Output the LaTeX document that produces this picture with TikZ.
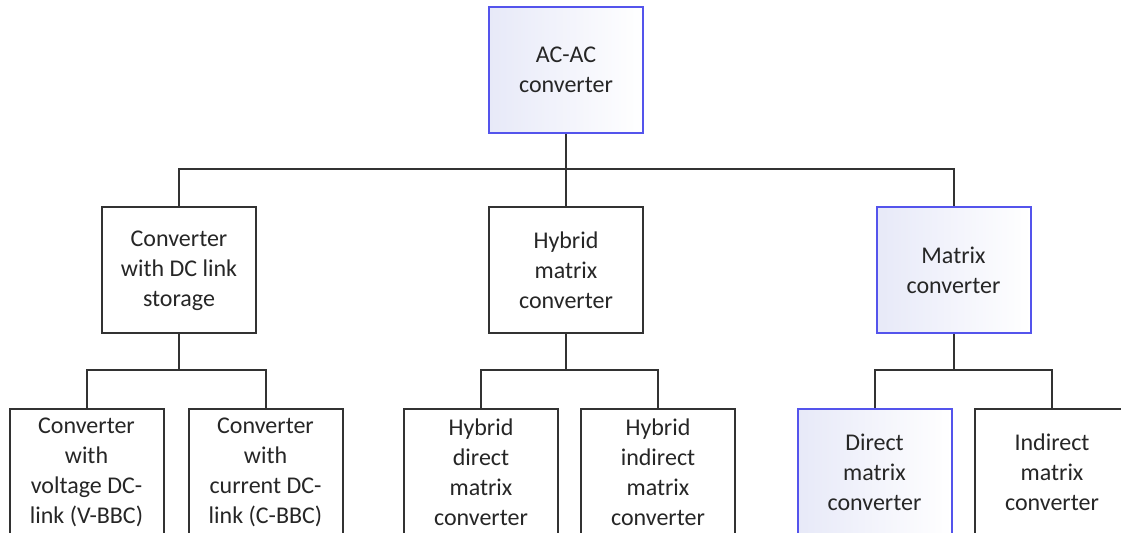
\documentclass[tikz,border=0pt]{standalone}
\usepackage{fontspec}
\setmainfont{Carlito}
\usepackage{tikz}
\usetikzlibrary{positioning,calc}
\definecolor{boxblue}{RGB}{84,84,236}
\definecolor{boxtint}{RGB}{231,233,248}
\definecolor{linegray}{RGB}{50,50,50}
\definecolor{txtgray}{RGB}{38,38,38}
\tikzset{
  box/.style={draw=linegray,line width=1pt,fill=white,minimum width=77pt,minimum height=63pt,
    inner sep=2pt,align=center,text=txtgray,font=\fontsize{12}{15}\selectfont},
  bluebox/.style={box,draw=boxblue,left color=boxtint,right color=white},
  conn/.style={draw=linegray,line width=1pt}
}

\begin{document}
\begin{tikzpicture}[x=0.5pt,y=-0.5pt]
\useasboundingbox (0,0) rectangle (1121,533);
\fill[white] (0,0) rectangle (1121,533);
\clip (0,0) rectangle (1121,533);
\node[bluebox] (ac) at (566,70) {AC-AC\\converter};
\node[box] (dcl) at (179,270.5) {Converter\\with DC link\\storage};
\node[box] (hmc) at (566,270.5) {Hybrid\\matrix\\converter};
\node[bluebox] (mc) at (953.5,270.5) {Matrix\\converter};
\node[box] (vbbc) at (86.5,472) {Converter\\with\\voltage DC-\\link (V-BBC)};
\node[box] (cbbc) at (265.5,472) {Converter\\with\\current DC-\\link (C-BBC)};
\node[box] (hdmc) at (481,472) {Hybrid\\direct\\matrix\\converter};
\node[box] (himc) at (658,472) {Hybrid\\indirect\\matrix\\converter};
\node[bluebox] (dmc) at (874.5,472) {Direct\\matrix\\converter};
\node[box] (imc) at (1052,472) {Indirect\\matrix\\converter};
\coordinate (j0) at ($(ac.south)+(0,35)$);
\coordinate (j1) at ($(dcl.south)+(0,36)$);
\coordinate (j2) at ($(hmc.south)+(0,36)$);
\coordinate (j3) at ($(mc.south)+(0,36)$);
\draw[conn] (ac) -- (hmc);
\draw[conn] (dcl.north) |- (j0) -| (mc.north);
\draw[conn] (dcl) -- (j1);
\draw[conn] (vbbc.north) |- (j1) -| (cbbc.north);
\draw[conn] (hmc) -- (j2);
\draw[conn] (hdmc.north) |- (j2) -| (himc.north);
\draw[conn] (mc) -- (j3);
\draw[conn] (dmc.north) |- (j3) -| (imc.north);
\end{tikzpicture}
\end{document}
